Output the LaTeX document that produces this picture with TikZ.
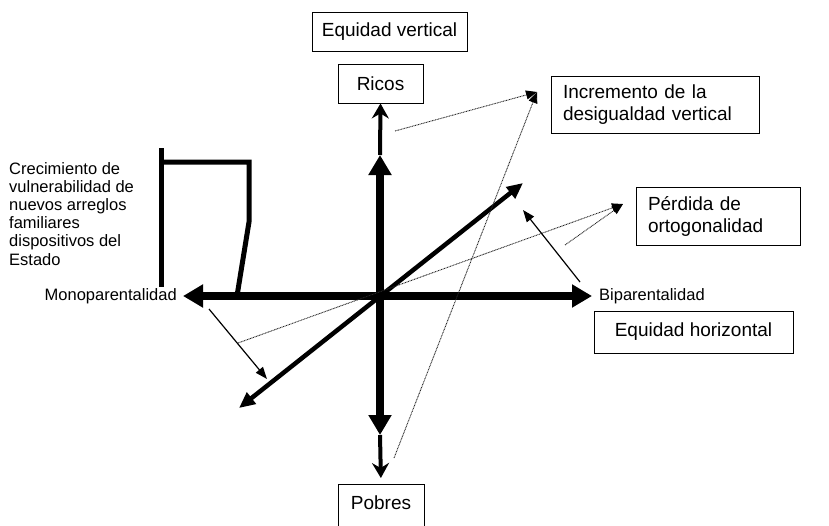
\documentclass[tikz,border=0pt]{standalone}
\usepackage{fontspec}
\setmainfont{Liberation Sans}
\usetikzlibrary{arrows.meta,positioning}

\begin{document}
\begin{tikzpicture}[x=1pt,y=-1pt,
  box/.style={draw,line width=0.9pt,inner sep=0pt,font=\fontsize{19}{22}\selectfont},
  lbl/.style={inner sep=0pt,font=\fontsize{16.5}{18.2}\selectfont},
  axisline/.style={line width=8pt,{Triangle[length=20pt,width=22pt]}-{Triangle[length=20pt,width=22pt]}},
  thinaxis/.style={line width=4pt,-{Stealth[length=15pt,width=17pt,inset=5pt]}},
  diag/.style={line width=4.5pt,{Triangle[length=16pt,width=14pt]}-{Triangle[length=16pt,width=14pt]}},
  dotarrow/.style={line width=0.9pt,black!85,dash pattern=on 0.9pt off 0.7pt,-{Triangle[length=11pt,width=9pt,color=black]}},
  thinarrow/.style={line width=1.2pt,-{Triangle[length=12pt,width=9pt]}}]
\useasboundingbox (0,0) rectangle (829,525);

\node[box,minimum width=155pt,minimum height=39pt] (eqv) at (389.5,31.5) {Equidad vertical};
\node[box,minimum width=85pt,minimum height=39pt] (ricos) at (380.5,83.5) {Ricos};
\node[box,anchor=north,minimum width=86pt,inner ysep=6pt,text height=19pt,text depth=30pt] (pobres) at (381,484) {Pobres};
\node[box,minimum width=208pt,minimum height=57pt,text width=184pt,align=left] (incr) at (655,104.5) {Incremento de la\\desigualdad vertical};
\node[box,minimum width=164pt,minimum height=58pt,text width=140pt,align=left] (perd) at (718,216) {P\'erdida de\\ortogonalidad};
\node[box,minimum width=199pt,minimum height=42pt] (eqh) at (693.5,332) {Equidad horizontal};

\coordinate (hl) at (183,296);
\coordinate (hr) at (592,296);
\coordinate (vt) at (380,155);
\coordinate (vb) at (380,435);
\coordinate (dl) at (239,408);
\coordinate (dr) at (523,183);
\node[lbl,left=6pt of hl] (mono) {Monoparentalidad};
\node[lbl,right=7pt of hr] (bipa) {Biparentalidad};
\node[lbl,anchor=north west,align=left] (crec) at (9,162) {Crecimiento de\\vulnerabilidad de\\nuevos arreglos\\familiares\\dispositivos del\\Estado};

\draw[axisline] (hl) -- (hr);
\draw[axisline] (vt) -- (vb);
\draw[thinaxis] (vt) -- (ricos.south);
\draw[thinaxis,shorten >=6pt] (vb) -- (pobres.north);
\draw[diag] (dl) -- (dr);

\draw[line width=5pt] (161,148) -- (161,287);
\draw[line width=5pt] (161,162) -- (249,162) -- (249,222) -- (237,296);

\coordinate (ia) at (537,92);
\coordinate (ib) at (395,131);
\coordinate (ic) at (394,458);
\coordinate (pa) at (623,204);
\coordinate (pb) at (238,343);
\coordinate (pc) at (565,245);
\draw[dotarrow] (ib) -- (ia);
\draw[dotarrow] (ic) -- (ia);
\draw[dotarrow] (pb) -- (pa);
\draw[dotarrow] (pc) -- (pa);

\coordinate (sa) at (580,282);
\coordinate (sb) at (523,210);
\coordinate (sc) at (209,309);
\coordinate (sd) at (267,379);
\draw[thinarrow] (sa) -- (sb);
\draw[thinarrow] (sc) -- (sd);
\end{tikzpicture}
\end{document}
